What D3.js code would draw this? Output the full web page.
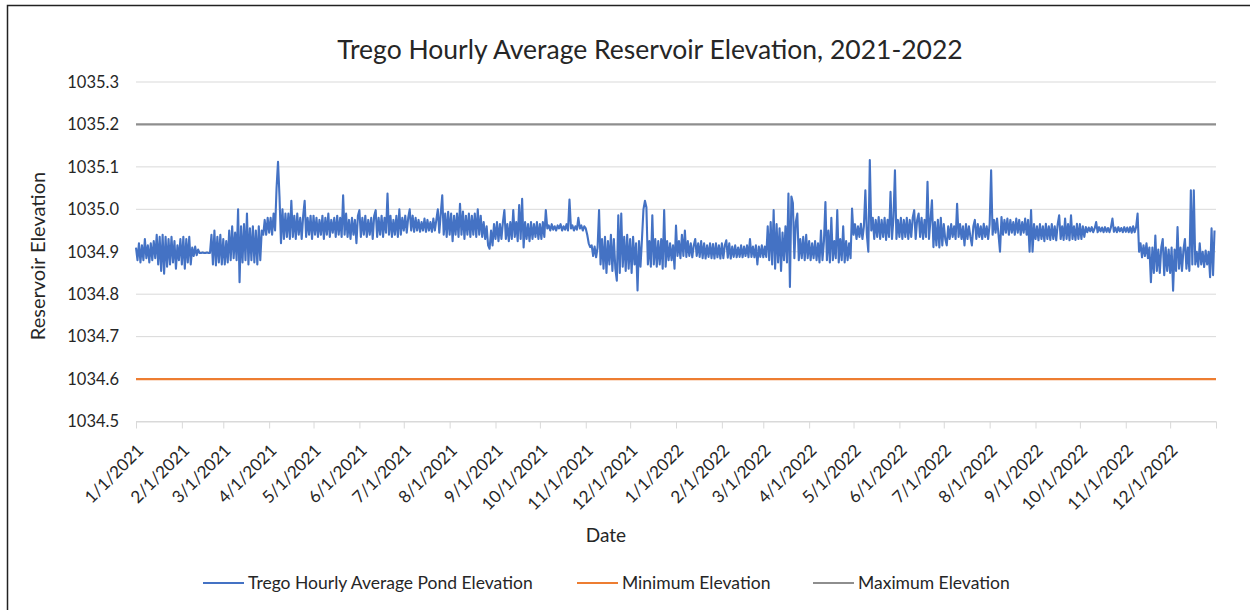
<!DOCTYPE html>
<html>
<head>
<meta charset="utf-8">
<script src="https://cdn.jsdelivr.net/npm/d3@7"></script>
<style>
  body { margin: 0; background: #fff; }
  svg text { font-family: Lato, "Open Sans", sans-serif; fill: #262626; }
</style>
</head>
<body>
<svg id="chart" width="1250" height="610"></svg>
<script>

// one reading per day, 1/1/2021 onwards
const startDate = "2021-01-01";
const endDate = "2023-01-01";

const elev2021 = [
  // jan
  1034.91,1034.88,1034.92,1034.875,1034.915,1034.88,1034.93,1034.885,1034.915,1034.875,1034.92,1034.88,1034.925,1034.885,1034.94,1034.87,1034.935,1034.855,1034.94,1034.848,1034.935,1034.865,1034.93,1034.87,1034.935,1034.875,1034.925,1034.86,1034.915,1034.88,1034.93,
  // feb
  1034.87,1034.935,1034.86,1034.93,1034.875,1034.935,1034.87,1034.91,1034.89,1034.912,1034.892,1034.905,1034.897,1034.897,1034.898,1034.897,1034.897,1034.898,1034.897,1034.897,1034.94,1034.87,1034.95,1034.868,1034.935,1034.875,1034.94,1034.87,
  // mar
  1034.93,1034.87,1034.925,1034.875,1034.95,1034.88,1034.96,1034.885,1034.945,1034.88,1035.0,1034.828,1034.96,1034.875,1034.965,1034.88,1034.99,1034.87,1034.955,1034.88,1034.96,1034.875,1034.95,1034.87,1034.96,1034.88,1034.95,1034.94,1034.975,1034.94,1034.98,
  // apr
  1034.945,1034.98,1034.94,1034.99,1034.95,1035.05,1035.112,1035.03,1034.92,1035.0,1034.93,1034.99,1034.935,1034.99,1034.93,1035.02,1034.935,1034.985,1034.93,1034.99,1034.94,1034.98,1034.93,1034.985,1035.02,1034.935,1034.98,1034.94,1034.985,1034.93,
  // may
  1034.985,1034.94,1034.98,1034.935,1034.975,1034.94,1034.985,1034.93,1034.98,1034.94,1034.99,1034.935,1034.975,1034.945,1034.98,1034.935,1034.985,1034.94,1034.98,1034.935,1035.033,1034.94,1034.99,1034.935,1034.975,1034.93,1034.98,1034.94,1034.975,1034.92,1034.985,
  // jun
  1034.998,1034.935,1034.98,1034.94,1034.985,1034.935,1034.975,1034.94,1034.98,1034.93,1034.985,1034.998,1034.935,1034.98,1034.94,1034.985,1034.935,1034.98,1034.945,1035.037,1034.94,1034.985,1034.935,1034.975,1034.94,1034.985,1034.935,1035.0,1034.94,1034.98,
  // jul
  1034.95,1034.985,1034.945,1034.98,1035.0,1034.95,1034.985,1034.947,1034.98,1034.95,1034.975,1034.947,1034.97,1034.95,1034.978,1034.947,1034.975,1034.95,1034.97,1034.947,1034.978,1034.95,1034.975,1035.0,1034.945,1034.99,1035.033,1034.94,1034.99,1034.935,1034.994,
  // aug
  1034.94,1034.99,1034.925,1034.985,1034.94,1034.99,1034.935,1035.013,1034.94,1034.995,1034.93,1034.985,1034.94,1034.99,1034.935,1034.985,1034.94,1034.99,1034.935,1035.0,1034.94,1034.985,1034.935,1034.97,1034.93,1034.96,1034.915,1034.907,1034.95,1034.915,1034.965,
  // sep
  1034.93,1034.97,1034.925,1034.965,1034.93,1034.97,1034.998,1034.93,1034.965,1034.925,1034.97,1034.93,1034.998,1034.935,1034.97,1034.925,1035.01,1034.93,1035.025,1034.91,1034.97,1034.93,1034.965,1034.925,1034.97,1034.93,1034.965,1034.935,1034.97,1034.93,
  // oct
  1034.965,1034.93,1034.97,1034.935,1034.998,1034.955,1034.962,1034.95,1034.965,1034.952,1034.96,1034.95,1034.962,1034.955,1034.965,1034.95,1034.96,1034.952,1034.965,1034.95,1035.023,1034.955,1034.962,1034.95,1034.96,1034.952,1034.98,1034.955,1034.962,1034.95,1034.96,
  // nov
  1034.955,1034.94,1034.92,1034.911,1034.915,1034.89,1034.912,1034.887,1034.91,1034.998,1034.87,1034.93,1034.86,1034.935,1034.85,1034.925,1034.87,1034.94,1034.855,1034.93,1034.86,1034.832,1034.986,1034.85,1034.99,1034.865,1034.935,1034.855,1034.94,1034.86,
  // dec
  1034.93,1034.85,1034.935,1034.87,1034.92,1034.809,1034.925,1034.865,1034.93,1035.0,1035.02,1035.005,1034.87,1034.925,1034.865,1034.986,1034.87,1034.93,1034.865,1034.925,1034.87,1034.93,1034.86,1034.998,1034.865,1034.925,1034.88,1034.92,1034.88,1034.915,1034.86
];

const elev2022 = [
  // jan
  1034.962,1034.89,1034.925,1034.885,1034.94,1034.89,1034.95,1034.888,1034.925,1034.89,1034.92,1034.887,1034.915,1034.93,1034.89,1034.92,1034.888,1034.925,1034.885,1034.92,1034.884,1034.915,1034.888,1034.92,1034.885,1034.918,1034.884,1034.92,1034.887,1034.915,1034.884,
  // feb
  1034.92,1034.885,1034.915,1034.927,1034.886,1034.92,1034.884,1034.912,1034.888,1034.915,1034.887,1034.91,1034.888,1034.915,1034.887,1034.912,1034.89,1034.915,1034.887,1034.93,1034.888,1034.912,1034.887,1034.915,1034.87,1034.912,1034.888,1034.915,
  // mar
  1034.887,1034.912,1034.888,1034.96,1034.88,1034.97,1034.87,1034.998,1034.86,1034.965,1034.875,1034.955,1034.855,1034.945,1034.88,1034.96,1034.875,1035.037,1034.817,1035.03,1035.015,1034.885,1034.97,1034.99,1034.88,1034.93,1034.885,1034.935,1034.88,1034.94,1034.885,
  // apr
  1034.925,1034.88,1034.92,1034.885,1034.925,1034.88,1034.92,1034.875,1034.95,1034.88,1034.925,1035.017,1034.88,1034.95,1034.875,1034.98,1034.88,1034.925,1034.885,1034.998,1034.875,1034.93,1034.88,1034.96,1034.875,1034.925,1034.88,1034.92,1034.885,1035.002,
  // may
  1034.94,1034.965,1034.93,1034.96,1034.935,1034.966,1034.93,1034.96,1035.045,1034.94,1034.9,1035.116,1034.95,1034.98,1034.93,1034.975,1034.935,1034.982,1034.93,1034.975,1034.935,1034.98,1034.928,1034.975,1034.935,1035.041,1034.93,1034.98,1035.092,1034.93,1034.975,
  // jun
  1034.935,1034.98,1034.93,1034.975,1034.935,1034.98,1034.93,1034.975,1034.935,1034.98,1034.998,1034.93,1034.975,1034.99,1034.935,1034.98,1034.93,1034.975,1034.935,1035.065,1034.93,1034.975,1035.021,1034.911,1034.97,1034.915,1034.975,1034.91,1034.98,1034.915,
  // jul
  1034.965,1034.93,1034.915,1034.96,1034.93,1034.965,1034.935,1034.96,1034.93,1035.013,1034.935,1034.965,1034.93,1034.96,1034.915,1034.965,1034.93,1034.96,1034.935,1034.915,1034.96,1034.975,1034.93,1034.965,1034.935,1034.96,1034.93,1034.966,1034.935,1034.96,1034.93,
  // aug
  1034.965,1035.092,1034.94,1034.975,1034.945,1034.978,1034.94,1034.9,1034.982,1034.94,1034.975,1034.945,1034.978,1034.94,1034.975,1034.945,1034.97,1034.94,1034.978,1034.945,1034.975,1034.94,1034.97,1034.945,1034.978,1034.94,1034.975,1034.9,1034.998,1034.9,1034.965,
  // sep
  1034.93,1034.96,1034.927,1034.965,1034.93,1034.96,1034.925,1034.966,1034.93,1034.96,1034.928,1034.965,1034.93,1034.96,1034.927,1034.965,1034.986,1034.93,1034.96,1034.928,1034.978,1034.93,1034.965,1034.927,1034.986,1034.93,1034.96,1034.928,1034.966,1034.93,
  // oct
  1034.965,1034.93,1034.96,1034.935,1034.958,1034.946,1034.957,1034.948,1034.958,1034.946,1034.955,1034.97,1034.946,1034.958,1034.948,1034.957,1034.946,1034.958,1034.947,1034.956,1034.946,1034.958,1034.978,1034.947,1034.957,1034.946,1034.958,1034.948,1034.956,1034.946,1034.958,
  // nov
  1034.947,1034.957,1034.946,1034.958,1034.945,1034.96,1034.946,1034.958,1034.99,1034.9,1034.92,1034.887,1034.915,1034.89,1034.92,1034.885,1034.91,1034.828,1034.91,1034.85,1034.938,1034.855,1034.905,1034.85,1034.91,1034.93,1034.845,1034.91,1034.855,1034.905,
  // dec
  1034.85,1034.91,1034.808,1034.905,1034.855,1034.958,1034.86,1034.91,1034.855,1034.905,1034.93,1034.86,1034.91,1034.855,1035.045,1034.87,1035.045,1034.87,1034.9,1034.865,1034.92,1034.87,1034.9,1034.864,1034.903,1034.87,1034.9,1034.84,1034.955,1034.845,1034.95
];

const minElevation = 1034.6;
const maxElevation = 1035.2;
const yTicks = [1034.5, 1034.6, 1034.7, 1034.8, 1034.9, 1035.0, 1035.1, 1035.2, 1035.3];
const seriesNames = ["Trego Hourly Average Pond Elevation", "Minimum Elevation", "Maximum Elevation"];
const seriesColors = ["#4472C4", "#ED7D31", "#8E8E8E"];

const svg = d3.select("#chart");
const parse = d3.utcParse("%Y-%m-%d");
const t0 = parse(startDate), t1 = parse(endDate);

const data = elev2021.concat(elev2022).map((v, i) => ({ date: d3.utcDay.offset(t0, i), v: v }));

const x = d3.scaleUtc().domain([t0, t1]).range([136, 1216]);
const y = d3.scaleLinear().domain([1034.5, 1035.3]).range([421.5, 82]);

// frame (only top/left visible in the source picture)
svg.append("rect")
  .attr("x", 7.5).attr("y", 5.5)
  .attr("width", 1300).attr("height", 700)
  .attr("fill", "none").attr("stroke", "#222").attr("stroke-width", 1.5);

// title
svg.append("text")
  .attr("x", 650).attr("y", 59)
  .attr("text-anchor", "middle")
  .style("font-size", "26.5px")
  .text("Trego Hourly Average Reservoir Elevation, 2021-2022");

// gridlines
svg.append("g")
  .selectAll("line")
  .data(yTicks)
  .enter().append("line")
  .attr("x1", x(t0)).attr("x2", x(t1))
  .attr("y1", d => y(d)).attr("y2", d => y(d))
  .attr("stroke", "#d9d9d9").attr("stroke-width", 1);

// y axis labels
const yAxis = d3.axisLeft(y).tickValues(yTicks).tickFormat(d3.format(".1f")).tickSize(0).tickPadding(17);
svg.append("g")
  .attr("transform", "translate(" + x(t0) + ",0)")
  .call(yAxis)
  .call(g => g.select(".domain").remove())
  .selectAll("text")
  .style("font-size", "16.5px").attr("fill", "#262626");

// x axis: month ticks, last one unlabeled
const monthTicks = d3.utcMonth.range(t0, d3.utcDay.offset(t1, 1));
const fmt = d3.utcFormat("%-m/%-d/%Y");
const xAxis = d3.axisBottom(x)
  .tickValues(monthTicks)
  .tickFormat(d => +d === +t1 ? "" : fmt(d))
  .tickSize(7).tickSizeOuter(0);

const xg = svg.append("g")
  .attr("transform", "translate(0," + y(1034.5) + ")")
  .call(xAxis);
xg.select(".domain").attr("stroke", "#d9d9d9");
xg.selectAll(".tick line").attr("stroke", "#d9d9d9");
xg.selectAll("text")
  .style("font-size", "17px").attr("fill", "#262626")
  .attr("text-anchor", "end")
  .attr("dy", 0).attr("y", 0)
  .attr("transform", "translate(8,30) rotate(-45)");

// axis titles
svg.append("text")
  .attr("transform", "translate(45,256) rotate(-90)")
  .attr("text-anchor", "middle")
  .style("font-size", "20px")
  .text("Reservoir Elevation");

svg.append("text")
  .attr("x", 606).attr("y", 542)
  .attr("text-anchor", "middle")
  .style("font-size", "19px")
  .text("Date");

// limit lines
const limits = [
  { v: minElevation, color: seriesColors[1] },
  { v: maxElevation, color: seriesColors[2] }
];
svg.append("g")
  .selectAll("line")
  .data(limits)
  .enter().append("line")
  .attr("x1", x(t0)).attr("x2", x(t1))
  .attr("y1", d => y(d.v)).attr("y2", d => y(d.v))
  .attr("stroke", d => d.color).attr("stroke-width", 2.2);

// the hourly trace
const line = d3.line().x(d => x(d.date)).y(d => y(d.v));
svg.append("path")
  .datum(data)
  .attr("d", line)
  .attr("fill", "none")
  .attr("stroke", seriesColors[0])
  .attr("stroke-width", 2.1)
  .attr("stroke-linejoin", "round");

// legend
const legendX = [203, 577, 813];
const lg = svg.append("g")
  .selectAll("g")
  .data(seriesNames)
  .enter().append("g")
  .attr("transform", (d, i) => "translate(" + legendX[i] + ",583)");
lg.append("line")
  .attr("x1", 0).attr("x2", 41)
  .attr("stroke", (d, i) => seriesColors[i]).attr("stroke-width", 2.2);
lg.append("text")
  .attr("x", 45).attr("y", 6)
  .style("font-size", "17.5px")
  .text(d => d);

</script>
</body>
</html>
